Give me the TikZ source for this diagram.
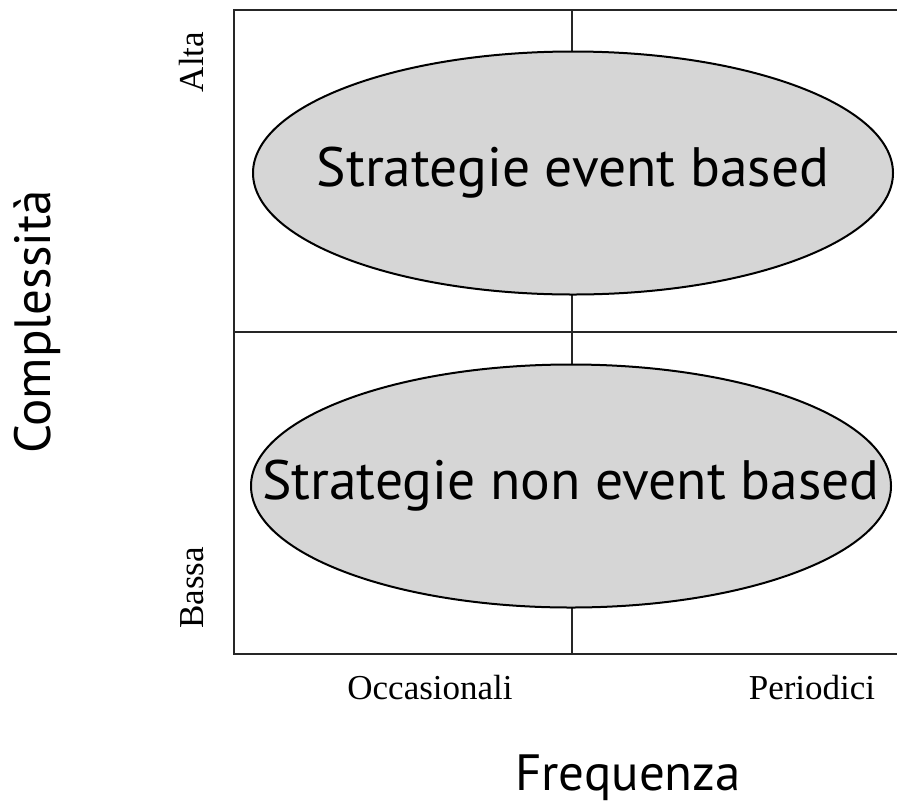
\documentclass[tikz,border=0pt]{standalone}
\usepackage{fontspec}
\setsansfont{PT Sans}
\setmainfont{Liberation Serif}
\usetikzlibrary{shapes.geometric}

\tikzset{
  griglia/.style={black!85,line width=2.2pt},
  strategia/.style={ellipse,draw=black,line width=2pt,fill=black!16,
    minimum width=640pt,minimum height=243pt,inner sep=0pt},
  scritta/.style={font=\sffamily\fontsize{55.5}{62}\selectfont},
  asse/.style={font=\sffamily\fontsize{51}{58}\selectfont},
  valore/.style={font=\rmfamily\fontsize{35}{40}\selectfont}
}

\begin{document}
\begin{tikzpicture}[x=1pt,y=-1pt]
    \useasboundingbox (0,0) rectangle (897,807);
    % quadrants
    \coordinate (NW) at (234,10);
    \coordinate (NE) at (897,10);
    \coordinate (W) at (234,332);
    \coordinate (E) at (897,332);
    \coordinate (SW) at (234,654);
    \coordinate (SE) at (897,654);
    \coordinate (N) at (572,10);
    \coordinate (S) at (572,654);
    \draw[griglia] (NE) -- (NW) -- (SW) -- (SE);
    \draw[griglia] (W) -- (E);
    \draw[griglia] (N) -- (S);
    % strategies
    \node[strategia] (alta) at (573,173) {};
    \node[scritta] at (alta) {Strategie event based};
    \node[strategia] (bassa) at (571,486) {};
    \node[scritta] at (bassa) {Strategie non event based};
    % axis labels
    \node[valore,rotate=90] (lblAlta) at (192,62) {Alta};
    \node[valore,rotate=90] (lblBassa) at (192,588) {Bassa};
    \node[valore] (lblOcc) at (430,688) {Occasionali};
    \node[valore] (lblPer) at (812,688) {Periodici};
    \node[asse,rotate=90] (lblY) at (37,322) {Complessità};
    \node[asse] (lblX) at (628,778) {Frequenza};
\end{tikzpicture}
\end{document}
